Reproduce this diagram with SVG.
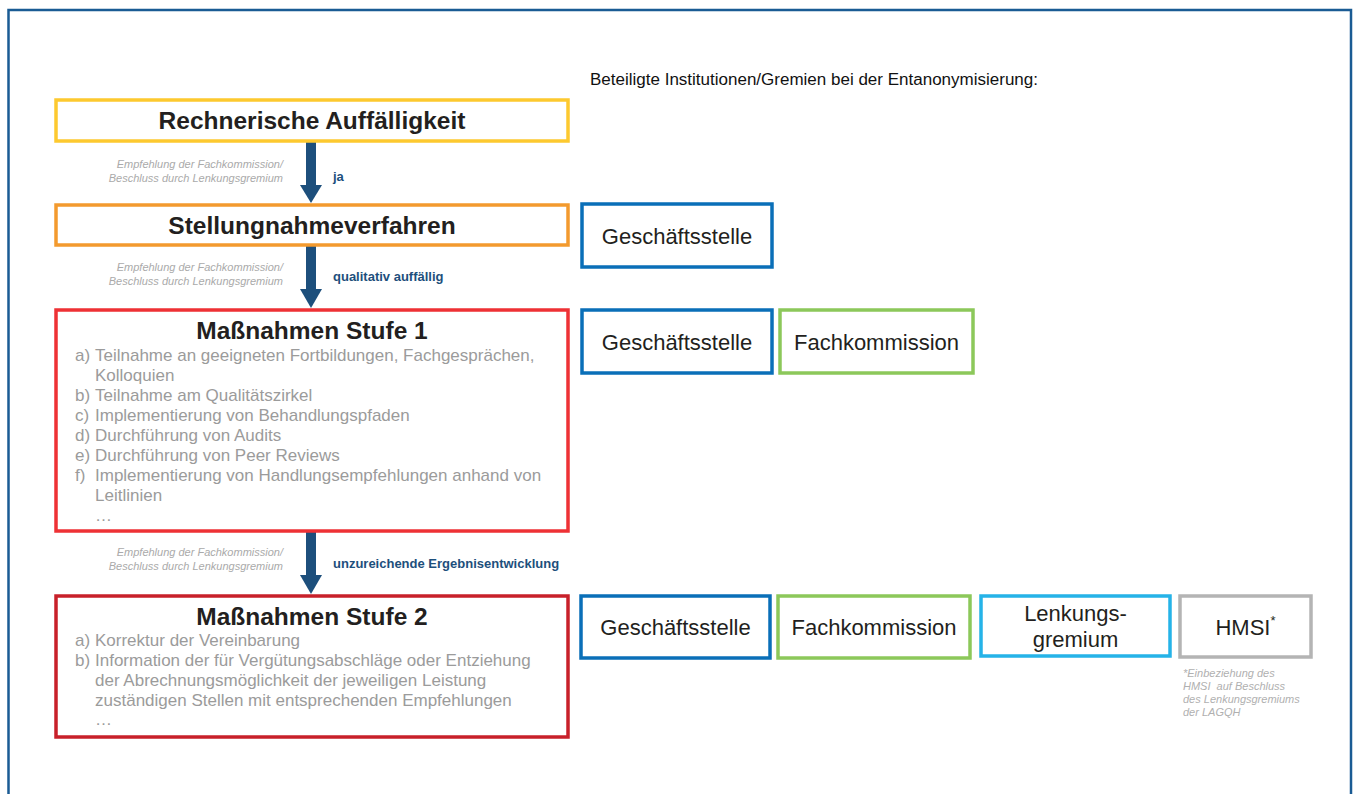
<svg xmlns="http://www.w3.org/2000/svg" width="1355" height="794" viewBox="0 0 1355 794">
<defs>
<style>
.frame{fill:none;stroke:#1a5b94;stroke-width:2.5}
.box{fill:#fff;stroke-width:3.5}
.title{font-family:"Liberation Sans",Arial,sans-serif;font-weight:bold;font-size:24.5px;fill:#231f20;text-anchor:middle}
.item{font-family:"Liberation Sans",Arial,sans-serif;font-size:17px;fill:#9b9b9b}
.note{font-family:"Liberation Sans",Arial,sans-serif;font-style:italic;font-size:11px;fill:#aaaaaa;text-anchor:end}
.cond{font-family:"Liberation Sans",Arial,sans-serif;font-weight:bold;font-size:13px;fill:#1d4f7c}
.inst{font-family:"Liberation Sans",Arial,sans-serif;font-size:22px;fill:#231f20;text-anchor:middle}
.foot{font-family:"Liberation Sans",Arial,sans-serif;font-style:italic;font-size:11px;fill:#b0b0b0;white-space:pre}
.head{font-family:"Liberation Sans",Arial,sans-serif;font-size:16px;fill:#111}
.arrow{fill:#1d4f7c}
</style>
</defs>
<rect width="1355" height="794" fill="#fff"/>
<rect class="frame" x="8.5" y="10" width="1342.5" height="800"/>
<text class="head" x="590" y="85" textLength="448" lengthAdjust="spacingAndGlyphs">Beteiligte Institutionen/Gremien bei der Entanonymisierung:</text>

<g id="connectors">
<g id="arrow1"><rect class="arrow" x="306" y="141" width="10" height="45"/><polygon class="arrow" points="300,185 322,185 311,203"/></g>
<text class="cond" x="333" y="181">ja</text>
<text class="note" x="283" y="168">Empfehlung der Fachkommission/</text>
<text class="note" x="283" y="182">Beschluss durch Lenkungsgremium</text>

<g id="arrow2"><rect class="arrow" x="306" y="245" width="10" height="45"/><polygon class="arrow" points="300,289 322,289 311,308"/></g>
<text class="cond" x="333" y="281">qualitativ auffällig</text>
<text class="note" x="283" y="271">Empfehlung der Fachkommission/</text>
<text class="note" x="283" y="285">Beschluss durch Lenkungsgremium</text>

<g id="arrow3"><rect class="arrow" x="306" y="531" width="10" height="45"/><polygon class="arrow" points="300,575 322,575 311,594"/></g>
<text class="cond" x="333" y="568">unzureichende Ergebnisentwicklung</text>
<text class="note" x="283" y="556">Empfehlung der Fachkommission/</text>
<text class="note" x="283" y="570">Beschluss durch Lenkungsgremium</text>
</g>

<g id="rechnerisch">
<rect class="box" x="56" y="100" width="512" height="41" stroke="#fdc92f"/>
<text class="title" x="312" y="129">Rechnerische Auffälligkeit</text>
</g>

<g id="stellungnahme">
<rect class="box" x="56" y="205" width="512" height="40" stroke="#f39a2e"/>
<text class="title" x="312" y="234">Stellungnahmeverfahren</text>
</g>

<g id="stufe1">
<rect class="box" x="56" y="310" width="512" height="221" stroke="#ee3135"/>
<text class="title" x="312" y="339">Maßnahmen Stufe 1</text>
<text class="item" x="75" y="361">a)</text><text class="item" x="95" y="361">Teilnahme an geeigneten Fortbildungen, Fachgesprächen,</text>
<text class="item" x="95" y="381">Kolloquien</text>
<text class="item" x="75" y="401">b)</text><text class="item" x="95" y="401">Teilnahme am Qualitätszirkel</text>
<text class="item" x="75" y="421">c)</text><text class="item" x="95" y="421">Implementierung von Behandlungspfaden</text>
<text class="item" x="75" y="441">d)</text><text class="item" x="95" y="441">Durchführung von Audits</text>
<text class="item" x="75" y="461">e)</text><text class="item" x="95" y="461">Durchführung von Peer Reviews</text>
<text class="item" x="75" y="481">f)</text><text class="item" x="95" y="481">Implementierung von Handlungsempfehlungen anhand von</text>
<text class="item" x="95" y="501">Leitlinien</text>
<text class="item" x="95" y="521">…</text>
</g>

<g id="stufe2">
<rect class="box" x="56" y="596" width="512" height="141" stroke="#c8202a"/>
<text class="title" x="312" y="625">Maßnahmen Stufe 2</text>
<text class="item" x="75" y="646">a)</text><text class="item" x="95" y="646">Korrektur der Vereinbarung</text>
<text class="item" x="75" y="666">b)</text><text class="item" x="95" y="666">Information der für Vergütungsabschläge oder Entziehung</text>
<text class="item" x="95" y="686">der Abrechnungsmöglichkeit der jeweiligen Leistung</text>
<text class="item" x="95" y="706">zuständigen Stellen mit entsprechenden Empfehlungen</text>
<text class="item" x="95" y="725">…</text>
</g>

<g id="gs1">
<rect class="box" x="582" y="204" width="190" height="63" stroke="#0a6fb8"/>
<text class="inst" x="677" y="244">Geschäftsstelle</text>
</g>
<g id="gs2">
<rect class="box" x="582" y="310" width="190" height="63" stroke="#0a6fb8"/>
<text class="inst" x="677" y="350">Geschäftsstelle</text>
</g>
<g id="fk2">
<rect class="box" x="780" y="310" width="193" height="63" stroke="#8cc85a"/>
<text class="inst" x="876.5" y="350">Fachkommission</text>
</g>
<g id="gs3">
<rect class="box" x="581" y="596" width="189" height="62" stroke="#0a6fb8"/>
<text class="inst" x="675.5" y="635">Geschäftsstelle</text>
</g>
<g id="fk3">
<rect class="box" x="778" y="596" width="192" height="62" stroke="#8cc85a"/>
<text class="inst" x="874" y="635">Fachkommission</text>
</g>
<g id="lg3">
<rect class="box" x="981" y="596" width="189" height="60" stroke="#25b3e8"/>
<text class="inst" x="1075.5" y="621">Lenkungs-</text>
<text class="inst" x="1075.5" y="647">gremium</text>
</g>
<g id="hmsi3">
<rect class="box" x="1180" y="596" width="131" height="61" stroke="#b4b4b4"/>
<text class="inst" x="1245.5" y="635">HMSI<tspan font-size="13" dy="-10">*</tspan></text>
</g>
<g id="footnote">
<text class="foot" x="1183" y="677">*Einbeziehung des</text>
<text class="foot" x="1183" y="690">HMSI  auf Beschluss</text>
<text class="foot" x="1183" y="703">des Lenkungsgremiums</text>
<text class="foot" x="1183" y="716">der LAGQH</text>
</g>
</svg>
